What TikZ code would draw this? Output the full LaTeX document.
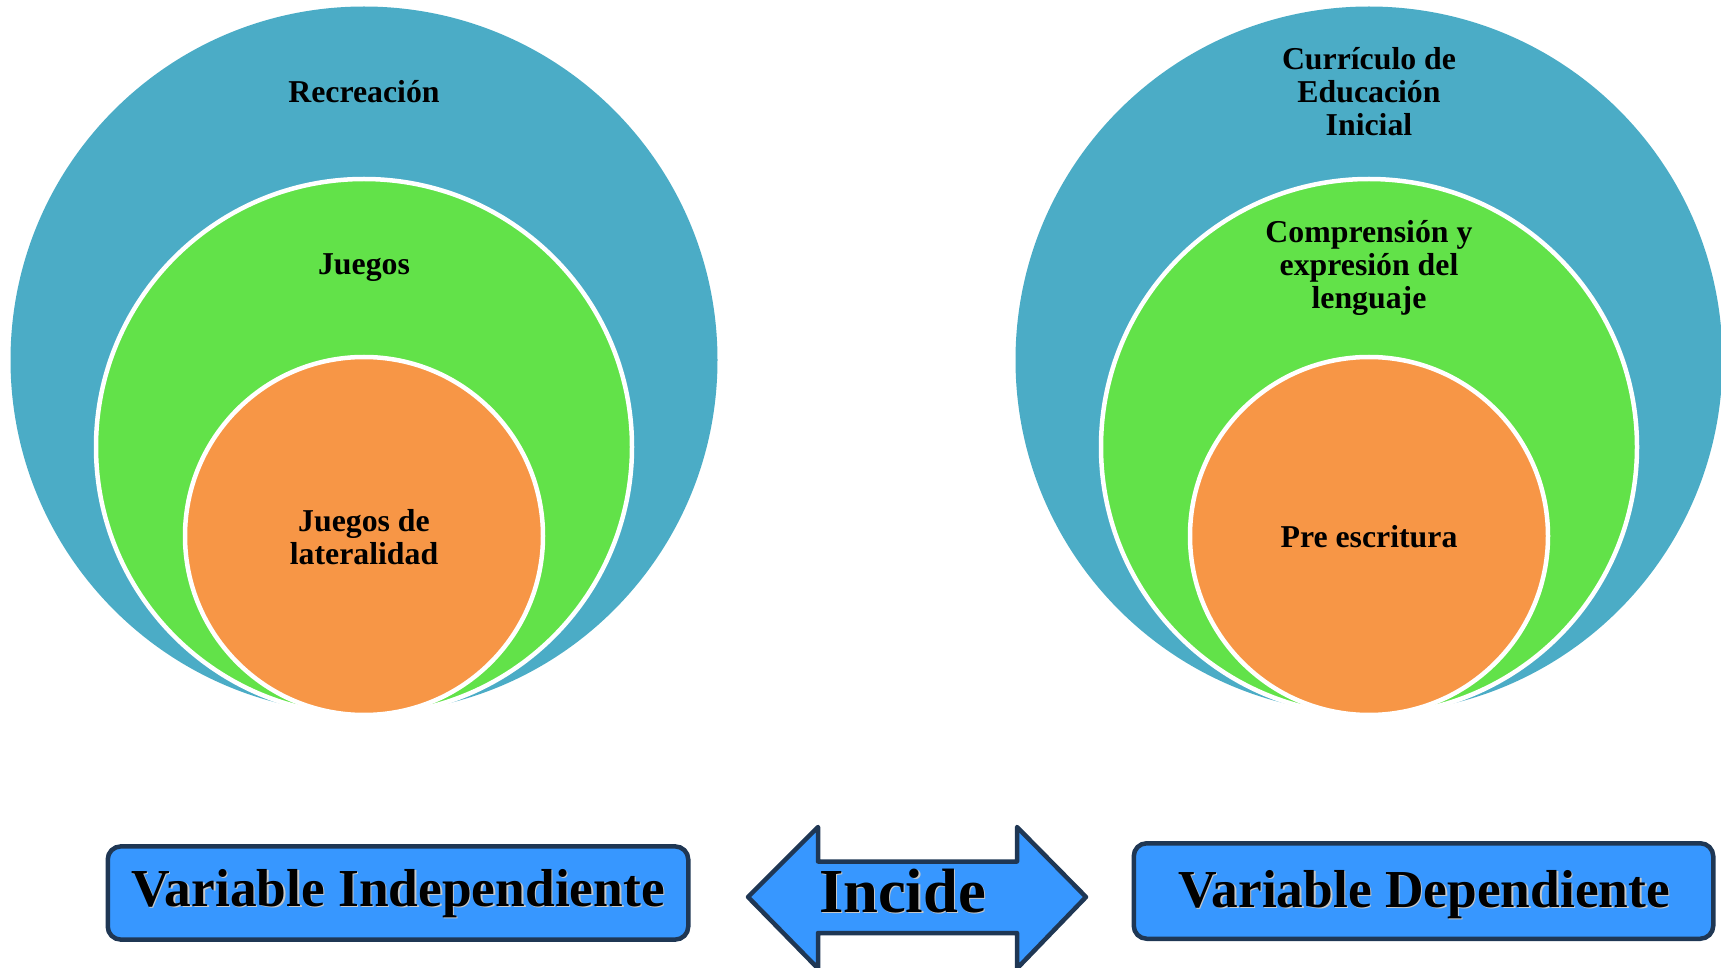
\documentclass[tikz,border=0pt]{standalone}
\usepackage{fontspec}
\setmainfont{Liberation Serif}
\definecolor{cTeal}{HTML}{4BACC6}
\definecolor{cGreen}{HTML}{62E249}
\definecolor{cOrange}{HTML}{F79646}
\definecolor{cBox}{HTML}{3797FF}
\definecolor{cEdge}{HTML}{1F3754}
\begin{document}
\begin{tikzpicture}[x=0.5pt,y=-0.5pt,
  disc/.style={circle, inner sep=0pt, outer sep=0pt},
  ring/.style={disc, draw=white, line width=2.25pt},
  clabel/.style={font=\bfseries\fontsize{15.9}{16.5}\selectfont, align=center, inner sep=0pt},
  varbox/.style={draw=cEdge, fill=cBox, line width=2.25pt, rounded corners=6.5pt, inner sep=0pt},
  boxtext/.style={font=\bfseries\fontsize{26.7}{30}\selectfont, inner sep=0pt, anchor=base},
  shade/.style={text=black!22}
]
\useasboundingbox (0,0) rectangle (1721,968);

% left nested circles
\node[disc, fill=cTeal, minimum size=353.5pt] (recOut) at (364,360) {};
\node[ring, fill=cGreen, minimum size=268pt] (recMid) at (364,447) {};
\node[ring, fill=cOrange, minimum size=179pt] (recIn) at (364,536) {};
\node[clabel, anchor=base] (tRec) at (364,103) {Recreación};
\node[clabel, anchor=base] (tJue) at (364,275) {Juegos};
\node[clabel] (tLat) at (364,537.5) {Juegos de\\lateralidad};

% right nested circles
\node[disc, fill=cTeal, minimum size=353.5pt] (curOut) at (1369,360) {};
\node[ring, fill=cGreen, minimum size=268pt] (curMid) at (1369,447) {};
\node[ring, fill=cOrange, minimum size=179pt] (curIn) at (1369,536) {};
\node[clabel] (tCur) at (1369,91.5) {Currículo de\\Educación\\Inicial};
\node[clabel] (tCom) at (1369,268) {Comprensión y\\expresión del\\lenguaje};
\node[clabel, anchor=base] (tPre) at (1369,547) {Pre escritura};

% boxes
\node[varbox, minimum width=290.25pt, minimum height=46.6pt] (vi) at (398,893) {};
\node[boxtext, shade] (viS) at (399.5,907.5) {Variable Independiente};
\node[boxtext] (viT) at (398,906) {Variable Independiente};

\node[varbox, minimum width=289.75pt, minimum height=47.75pt] (vd) at (1423.5,891) {};
\node[boxtext, shade] (vdS) at (1425.5,908.5) {Variable Dependiente};
\node[boxtext] (vdT) at (1424,907) {Variable Dependiente};

% double arrow
\draw[draw=cEdge, fill=cBox, line width=2.25pt, line join=round]
  (748,897) -- (818,827) -- (818,861.5) -- (1017,861.5) -- (1017,827)
  -- (1086,897) -- (1017,968.5) -- (1017,933) -- (818,933) -- (818,968.5) -- cycle;
\node[font=\bfseries\fontsize{31.3}{34}\selectfont, inner sep=0pt, anchor=base, shade] (incS) at (904,913.5) {Incide};
\node[font=\bfseries\fontsize{31.3}{34}\selectfont, inner sep=0pt, anchor=base] (inc) at (902.5,912) {Incide};
\end{tikzpicture}
\end{document}
